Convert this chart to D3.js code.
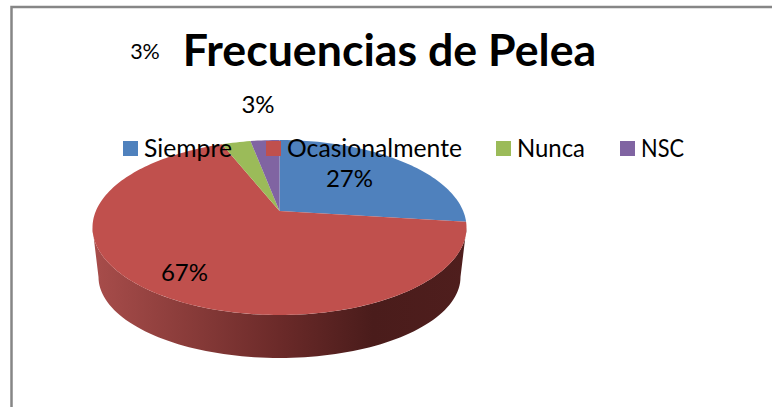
<!DOCTYPE html>
<html><head><meta charset="utf-8">
<script src="https://cdn.jsdelivr.net/npm/d3@7/dist/d3.min.js"></script>
<style>html,body{margin:0;padding:0;background:#fff}svg{display:block}text{font-family:Lato,"Noto Sans",sans-serif;fill:#000}</style>
</head><body><div id="c"></div>
<script>
const categories = ["Siempre","Ocasionalmente","Nunca","NSC"];
const values = [27,67,3,3];
const valueLabels = ["27%","67%","3%","3%"];
const colors = ["#4f81bd","#c0504d","#9bbb59","#8064a2"];
const titleText = "Frecuencias de Pelea";

(function(){
const W=772,H=407;
const svg=d3.select("#c").append("svg").attr("width",W).attr("height",H);
const defs=svg.append("defs");
svg.append("path").attr("d",`M11.5 ${H}V7H${W}`).attr("fill","none").attr("stroke","#868686").attr("stroke-width",2.5);

// perspective mapping of a flat disk to the tilted top face
const topE={cx:279.5,cy:227.5,rx:187,ry:87.5}, botE={cx:279.5,cy:277,rx:181,ry:81};
const apexY=211, k=(topE.cy-apexY)/topE.ry;
function rim(a){
  const s=Math.sin(a),c=Math.cos(a),d=1+k*c;
  return [topE.cx+topE.rx*s*Math.sqrt(1-k*k)/d, topE.cy-topE.ry*(c+k)/d];
}
const apex=[topE.cx,apexY];
const pie=d3.pie().sort(null).startAngle(0).endAngle(2*Math.PI);
const arcs=pie(values);
const line=d3.line();

// side wall: the front half of the rim
const wallGrad=defs.append("linearGradient").attr("id","wall").attr("gradientUnits","userSpaceOnUse")
  .attr("x1",topE.cx-topE.rx).attr("x2",topE.cx+topE.rx).attr("y1",0).attr("y2",0);
[[0,"#a84d4b"],[0.25,"#8a3c3a"],[0.5,"#6b2a29"],[0.75,"#4a1c1b"],[1,"#4f1e1d"]].forEach(s=>
  wallGrad.append("stop").attr("offset",s[0]).attr("stop-color",s[1]));
const front=d3.range(0,181,2).map(t=>{const a=t*Math.PI/180;return [topE.cx+topE.rx*Math.cos(a),topE.cy+topE.ry*Math.sin(a)];});
const back=d3.range(180,-1,-2).map(t=>{const a=t*Math.PI/180;return [botE.cx+botE.rx*Math.cos(a),botE.cy+botE.ry*Math.sin(a)];});
svg.append("path").attr("d",line(front.concat(back))+"Z").attr("fill","url(#wall)");

// top face slices
svg.append("g").selectAll("path").data(arcs).join("path")
  .attr("d",d=>{
    const n=Math.max(4,Math.ceil((d.endAngle-d.startAngle)*40));
    const pts=d3.range(n+1).map(i=>rim(d.startAngle+(d.endAngle-d.startAngle)*i/n));
    return line([apex,...pts])+"Z";
  })
  .attr("fill",(d,i)=>colors[i]);

// title
svg.append("text").attr("x",389.5).attr("y",66).attr("text-anchor","middle")
  .attr("font-size",44.7).attr("font-weight",700).text(titleText);

// legend
const legendSwatchX=[123,266,496,620];
const legendTextWidth=[88,175,68,43];
const lg=svg.append("g").selectAll("g").data(categories).join("g")
  .attr("transform",(d,i)=>`translate(${legendSwatchX[i]},141)`);
lg.append("rect").attr("width",15).attr("height",15).attr("fill",(d,i)=>colors[i]);
lg.append("text").attr("x",21).attr("y",16).attr("font-size",24.5)
  .attr("textLength",(d,i)=>legendTextWidth[i]).attr("lengthAdjust","spacingAndGlyphs").text(d=>d);

// value labels
const labelPos=[[349.5,177],[184.5,271],[258,103],[145,51]];
const labelSize=[24,24,24,21.5];
svg.append("g").selectAll("text").data(valueLabels).join("text")
  .attr("x",(d,i)=>labelPos[i][0]).attr("y",(d,i)=>labelPos[i][1])
  .attr("text-anchor","middle").attr("dominant-baseline","central")
  .attr("font-size",(d,i)=>labelSize[i]).text(d=>d);
})();
</script></body></html>
